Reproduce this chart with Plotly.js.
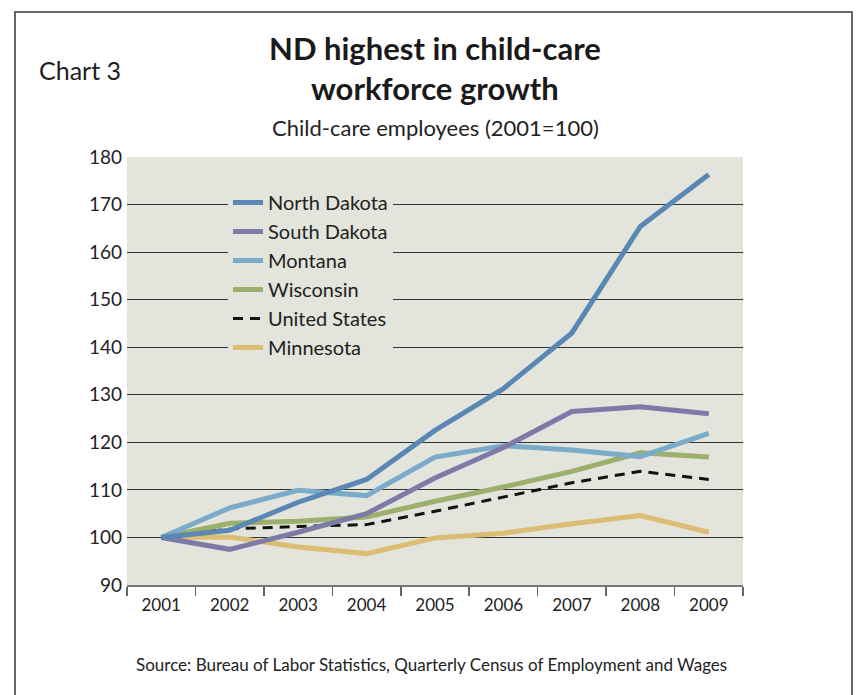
<!DOCTYPE html>
<html>
<head>
<meta charset="utf-8">
<script src="https://cdn.plot.ly/plotly-3.0.1.min.js"></script>
<style>html,body{margin:0;padding:0;background:#fff;}#chart{width:857px;height:695px;}</style>
</head>
<body>
<div id="chart"></div>
<script>
const years = ["2001","2002","2003","2004","2005","2006","2007","2008","2009"];
const northDakota  = [100, 101.5, 107.4, 112.2, 122.5, 131.3, 143.0, 165.4, 176.3];
const southDakota  = [100, 97.5, 101.1, 105.0, 112.5, 118.9, 126.5, 127.5, 126.0];
const montana      = [100, 106.2, 109.9, 108.8, 116.9, 119.3, 118.4, 117.0, 121.9];
const wisconsin    = [100, 103.0, 103.4, 104.3, 107.6, 110.6, 113.9, 117.8, 116.9];
const unitedStates = [100, 101.8, 102.3, 102.7, 105.5, 108.5, 111.5, 113.9, 112.2];
const minnesota    = [100, 100.1, 98.0, 96.6, 99.9, 100.9, 102.9, 104.6, 101.1];
const yTicks = [90, 100, 110, 120, 130, 140, 150, 160, 170, 180];
const titleLines = ["ND highest in child-care", "workforce growth"];

const FONT = "Lato, 'Open Sans', sans-serif";
const BG = "#e3e4dc";

function series(name, y, color, width, dash) {
  return {type: "scatter", mode: "lines", name: name, x: years, y: y,
          line: {color: color, width: width, dash: dash || "solid"}};
}

// drawn bottom to top; legend reversed so North Dakota is listed first
const data = [
  series("Minnesota", minnesota, "#dcbd74", 5),
  series("United States", unitedStates, "#111111", 3, "10px,7px"),
  series("Wisconsin", wisconsin, "#9caf6c", 5),
  series("Montana", montana, "#7babca", 5),
  series("South Dakota", southDakota, "#7e7aa8", 5),
  series("North Dakota", northDakota, "#5a87b4", 5)
];

const PL = 127, PR = 743, PT = 157, PB = 585;
const px = v => (v - PL) / (PR - PL);
const py = v => (PB - v) / (PB - PT);

const layout = {
  width: 857, height: 695,
  margin: {l: PL, r: 857 - PR, t: PT, b: 695 - PB},
  paper_bgcolor: "#ffffff",
  plot_bgcolor: BG,
  font: {family: FONT, color: "#222"},
  showlegend: true,
  legend: {x: px(228), y: py(183), xanchor: "left", yanchor: "top",
           bgcolor: BG, borderwidth: 0, traceorder: "reversed",
           font: {family: FONT, size: 20, color: "#222"}, itemwidth: 30},
  xaxis: {type: "category", range: [-0.5, 8.5], tickson: "boundaries", ticks: "outside", ticklen: 9,
          tickcolor: "#666", tickwidth: 1.5, showline: true, linecolor: "#777", linewidth: 2,
          showgrid: false, zeroline: false, ticklabelstandoff: 4,
          tickfont: {family: FONT, size: 17, color: "#222"}},
  yaxis: {range: [90, 180], tickvals: yTicks, ticks: "", showline: false, zeroline: false,
          showgrid: true, gridcolor: "#333", gridwidth: 1,
          ticklabelstandoff: 4,
          tickfont: {family: FONT, size: 19, color: "#222"}},
  annotations: [
    {text: "<b>" + titleLines[0] + "</b>", xref: "paper", yref: "paper", x: px(435), y: py(48),
     xanchor: "center", yanchor: "middle", showarrow: false,
     font: {family: FONT, size: 31, color: "#1a1a1a"}},
    {text: "<b>" + titleLines[1] + "</b>", xref: "paper", yref: "paper", x: px(435), y: py(88),
     xanchor: "center", yanchor: "middle", showarrow: false,
     font: {family: FONT, size: 31, color: "#1a1a1a"}},
    {text: "Chart 3", xref: "paper", yref: "paper", x: px(37), y: py(70),
     xanchor: "left", yanchor: "middle", showarrow: false,
     font: {family: FONT, size: 25, color: "#222"}},
    {text: "Child-care employees (2001=100)", xref: "paper", yref: "paper",
     x: px(435), y: py(127), xanchor: "center", yanchor: "middle", showarrow: false,
     font: {family: FONT, size: 22, color: "#222"}},
    {text: "Source: Bureau of Labor Statistics, Quarterly Census of Employment and Wages",
     xref: "paper", yref: "paper", x: px(431), y: py(664), xanchor: "center", yanchor: "middle",
     showarrow: false, font: {family: FONT, size: 17, color: "#222"}}
  ],
  shapes: [
    {type: "rect", xref: "paper", yref: "paper", x0: px(15), x1: px(852), y0: py(710), y1: py(12),
     line: {color: "#666", width: 2}, fillcolor: "rgba(0,0,0,0)", layer: "below"}
  ]
};

Plotly.newPlot("chart", data, layout, {displayModeBar: false, staticPlot: true});
</script>
</body>
</html>
